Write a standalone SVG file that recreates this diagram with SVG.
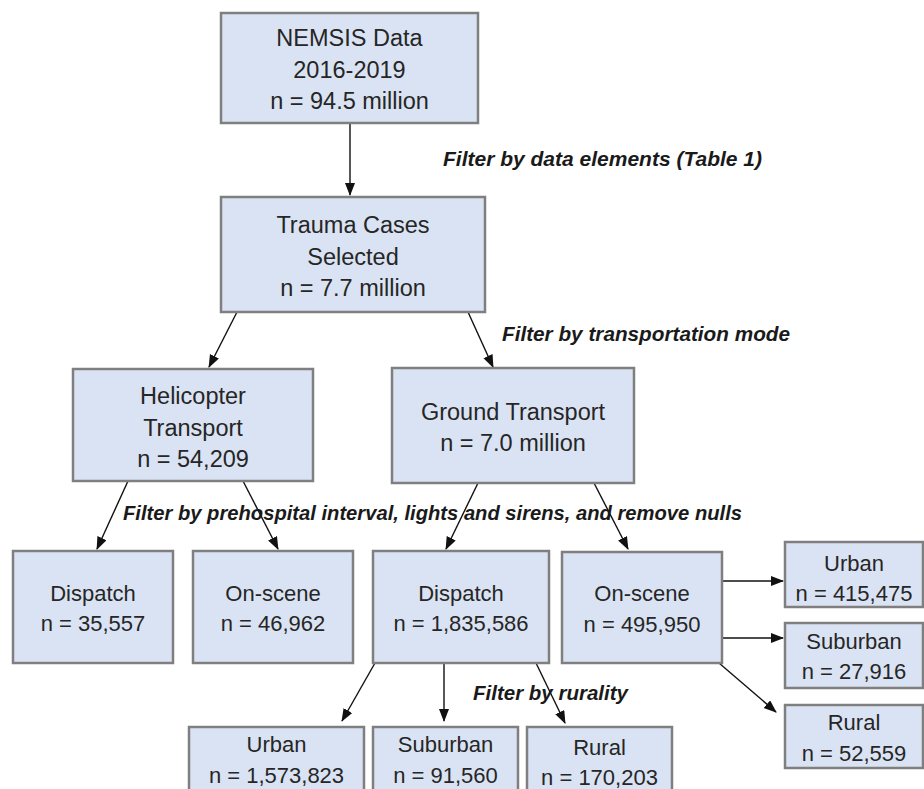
<svg xmlns="http://www.w3.org/2000/svg" width="924" height="789" viewBox="0 0 924 789">
  <defs>
    <marker id="ah" markerWidth="13" markerHeight="11" refX="12" refY="5" orient="auto" markerUnits="userSpaceOnUse">
      <path d="M0,0 L13,5 L0,10 z" fill="#111"/>
    </marker>
    <style>
      .box { fill: #dae3f3; stroke: #7f7f7f; stroke-width: 2.5; }
      .t { font-family: "Liberation Sans", Arial, sans-serif; fill: #262626; text-anchor: middle; dominant-baseline: central; }
      .big { font-size: 23.5px; }
      .sm { font-size: 22px; }
      .f { font-family: "Liberation Sans", Arial, sans-serif; font-weight: bold; font-style: italic; font-size: 20.5px; fill: #1a1a1a; dominant-baseline: central; }
      .c line { stroke: #111; stroke-width: 1.4; marker-end: url(#ah); }
    </style>
  </defs>
  <rect width="924" height="789" fill="#ffffff"/>

  <g id="connectors" class="c">
    <line x1="350" y1="123" x2="350" y2="195"/>
    <line x1="237" y1="312" x2="209" y2="367"/>
    <line x1="468" y1="312" x2="493" y2="367"/>
    <line x1="128" y1="481" x2="97" y2="549"/>
    <line x1="243" y1="481" x2="278" y2="549"/>
    <line x1="478" y1="483" x2="446" y2="549"/>
    <line x1="594" y1="483" x2="628" y2="549"/>
    <line x1="375" y1="663" x2="342" y2="721"/>
    <line x1="444" y1="663" x2="444" y2="721"/>
    <line x1="536" y1="663" x2="565" y2="723"/>
    <line x1="717" y1="581" x2="783" y2="581"/>
    <line x1="717" y1="638" x2="783" y2="638"/>
    <line x1="719" y1="663" x2="776" y2="712"/>
  </g>

  <g id="labels">
    <text class="f" x="443" y="158" textLength="319" lengthAdjust="spacingAndGlyphs">Filter by data elements (Table 1)</text>
    <text class="f" x="502" y="333" textLength="288" lengthAdjust="spacingAndGlyphs">Filter by transportation mode</text>
    <text class="f" x="123" y="512" textLength="619" lengthAdjust="spacingAndGlyphs">Filter by prehospital interval, lights and sirens, and remove nulls</text>
    <text class="f" x="473" y="692" textLength="155" lengthAdjust="spacingAndGlyphs">Filter by rurality</text>
  </g>

  <g id="nemsis">
    <rect class="box" x="221" y="13" width="257" height="110"/>
    <text class="t big" x="349.5" y="38">NEMSIS Data</text>
    <text class="t big" x="349.5" y="70">2016-2019</text>
    <text class="t big" x="349.5" y="101">n = 94.5 million</text>
  </g>

  <g id="trauma">
    <rect class="box" x="221" y="197" width="264" height="115"/>
    <text class="t big" x="353" y="225">Trauma Cases</text>
    <text class="t big" x="353" y="257">Selected</text>
    <text class="t big" x="353" y="288">n = 7.7 million</text>
  </g>

  <g id="helicopter">
    <rect class="box" x="73" y="369" width="240" height="112"/>
    <text class="t big" x="193" y="396">Helicopter</text>
    <text class="t big" x="193" y="428">Transport</text>
    <text class="t big" x="193" y="459">n = 54,209</text>
  </g>

  <g id="ground">
    <rect class="box" x="392" y="368" width="242" height="115"/>
    <text class="t big" x="513" y="412">Ground Transport</text>
    <text class="t big" x="513" y="443">n = 7.0 million</text>
  </g>

  <g id="heli-dispatch">
    <rect class="box" x="13" y="551" width="160" height="112"/>
    <text class="t sm" x="93" y="593">Dispatch</text>
    <text class="t sm" x="93" y="623">n = 35,557</text>
  </g>

  <g id="heli-onscene">
    <rect class="box" x="193" y="551" width="160" height="112"/>
    <text class="t sm" x="273" y="593">On-scene</text>
    <text class="t sm" x="273" y="623">n = 46,962</text>
  </g>

  <g id="ground-dispatch">
    <rect class="box" x="373" y="551" width="176" height="112"/>
    <text class="t sm" x="461" y="593">Dispatch</text>
    <text class="t sm" x="461" y="623">n = 1,835,586</text>
  </g>

  <g id="ground-onscene">
    <rect class="box" x="562" y="552" width="160" height="111"/>
    <text class="t sm" x="642" y="593">On-scene</text>
    <text class="t sm" x="642" y="624">n = 495,950</text>
  </g>

  <g id="onscene-urban">
    <rect class="box" x="785" y="542" width="138" height="65"/>
    <text class="t sm" x="854" y="563">Urban</text>
    <text class="t sm" x="854" y="593">n = 415,475</text>
  </g>

  <g id="onscene-suburban">
    <rect class="box" x="785" y="623" width="138" height="65"/>
    <text class="t sm" x="854" y="641">Suburban</text>
    <text class="t sm" x="854" y="671">n = 27,916</text>
  </g>

  <g id="onscene-rural">
    <rect class="box" x="785" y="705" width="138" height="63"/>
    <text class="t sm" x="854" y="722">Rural</text>
    <text class="t sm" x="854" y="753">n = 52,559</text>
  </g>

  <g id="dispatch-urban">
    <rect class="box" x="189" y="727" width="175" height="80"/>
    <text class="t sm" x="276.5" y="744">Urban</text>
    <text class="t sm" x="276.5" y="775">n = 1,573,823</text>
  </g>

  <g id="dispatch-suburban">
    <rect class="box" x="373" y="727" width="145" height="80"/>
    <text class="t sm" x="445.5" y="744">Suburban</text>
    <text class="t sm" x="445.5" y="775">n = 91,560</text>
  </g>

  <g id="dispatch-rural">
    <rect class="box" x="527" y="727" width="145" height="80"/>
    <text class="t sm" x="599.5" y="747">Rural</text>
    <text class="t sm" x="599.5" y="777">n = 170,203</text>
  </g>
</svg>
